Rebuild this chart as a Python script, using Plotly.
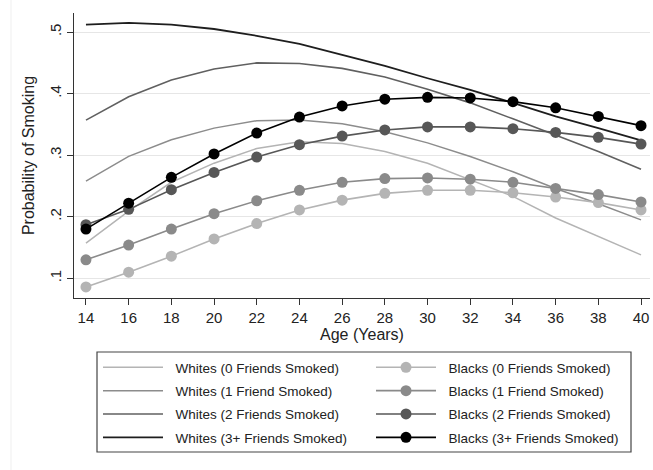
import plotly.graph_objects as go

ages = [14, 16, 18, 20, 22, 24, 26, 28, 30, 32, 34, 36, 38, 40]

whites_0 = [0.157, 0.209, 0.256, 0.287, 0.311, 0.322, 0.319, 0.306, 0.287, 0.260, 0.233, 0.198, 0.168, 0.138]
whites_1 = [0.258, 0.298, 0.325, 0.344, 0.356, 0.357, 0.351, 0.338, 0.320, 0.298, 0.273, 0.246, 0.221, 0.195]
whites_2 = [0.357, 0.395, 0.422, 0.440, 0.450, 0.449, 0.441, 0.427, 0.407, 0.385, 0.359, 0.333, 0.306, 0.277]
whites_3 = [0.512, 0.515, 0.512, 0.505, 0.494, 0.481, 0.463, 0.445, 0.425, 0.406, 0.385, 0.363, 0.344, 0.324]

blacks_0 = [0.086, 0.110, 0.136, 0.164, 0.189, 0.211, 0.227, 0.238, 0.243, 0.243, 0.239, 0.232, 0.223, 0.211]
blacks_1 = [0.130, 0.154, 0.180, 0.205, 0.226, 0.243, 0.256, 0.262, 0.263, 0.261, 0.256, 0.246, 0.236, 0.224]
blacks_2 = [0.187, 0.212, 0.244, 0.272, 0.297, 0.317, 0.331, 0.341, 0.346, 0.346, 0.343, 0.337, 0.329, 0.318]
blacks_3 = [0.180, 0.222, 0.264, 0.302, 0.336, 0.362, 0.380, 0.391, 0.394, 0.393, 0.387, 0.377, 0.363, 0.348]

white_names = ["Whites (0 Friends Smoked)", "Whites (1 Friend Smoked)",
               "Whites (2 Friends Smoked)", "Whites (3+ Friends Smoked)"]
black_names = ["Blacks (0 Friends Smoked)", "Blacks (1 Friend Smoked)",
               "Blacks (2 Friends Smoked)", "Blacks (3+ Friends Smoked)"]

y_tickvals = [0.1, 0.2, 0.3, 0.4, 0.5]
y_ticktext = [".1", ".2", ".3", ".4", ".5"]

white_colors = ["#b4b4b4", "#8c8c8c", "#606060", "#1e1e1e"]
black_colors = ["#b4b4b4", "#8a8a8a", "#575757", "#000000"]
white_widths = [1.5, 1.5, 1.6, 1.8]

PAD = "\u00a0\u00a0"

fig = go.Figure()

for i, (name, vals) in enumerate(zip(white_names, [whites_0, whites_1, whites_2, whites_3])):
    fig.add_trace(go.Scatter(
        x=ages, y=vals, name=PAD + name, mode="lines",
        line=dict(color=white_colors[i], width=white_widths[i]),
        legend="legend", legendgroup="w%d" % i, legendrank=i + 1,
    ))

for i, (name, vals) in enumerate(zip(black_names, [blacks_0, blacks_1, blacks_2, blacks_3])):
    fig.add_trace(go.Scatter(
        x=ages, y=vals, name=PAD + name, mode="lines+markers",
        line=dict(color=black_colors[i], width=1.6),
        marker=dict(color=black_colors[i], size=11, line=dict(width=0)),
        legend="legend2", legendgroup="b%d" % i, legendrank=i + 1,
    ))

# plot area: x 74..650 px, y 13..298 px
L, R, T, B = 74, 3, 13, 172
W, H = 653 - L - R, 470 - T - B

def px(xp):
    return (xp - L) / W

def py(yp):
    return (470 - B - yp) / H

legend_font = dict(family="Liberation Sans, Arial, sans-serif", size=13.5, color="#222222")

fig.update_layout(
    width=653, height=470,
    margin=dict(l=L, r=R, t=T, b=B, autoexpand=False),
    paper_bgcolor="white", plot_bgcolor="white",
    font=dict(family="Liberation Sans, Arial, sans-serif", color="#222222"),
    hovermode=False,
    xaxis=dict(
        range=[13.44, 40.42], tickvals=ages, ticks="outside", ticklen=6,
        tickcolor="#333333", tickwidth=1.2, automargin=False,
        showline=True, linecolor="#333333", linewidth=1.3,
        showgrid=False, zeroline=False,
        tickfont=dict(size=15, color="#222222"),
        title=dict(text="Age (Years)", font=dict(size=16, color="#222222"), standoff=2),
    ),
    yaxis=dict(
        range=[0.068, 0.531], tickvals=y_tickvals, ticktext=y_ticktext,
        tickangle=-90, ticks="outside", ticklen=6,
        tickcolor="#333333", tickwidth=1.2, automargin=False,
        showline=True, linecolor="#333333", linewidth=1.3,
        showgrid=True, gridcolor="#e6e6e6", gridwidth=1.3, zeroline=False,
        tickfont=dict(size=15, color="#222222"),
        title=dict(text="Probability of Smoking", font=dict(size=16, color="#222222"), standoff=8),
    ),
    legend=dict(
        x=px(98), y=py(352), xanchor="left", yanchor="top",
        orientation="v", font=legend_font, itemwidth=60,
        tracegroupgap=2.8, bgcolor="rgba(0,0,0,0)", borderwidth=0,
    ),
    legend2=dict(
        x=px(371), y=py(352), xanchor="left", yanchor="top",
        orientation="v", font=legend_font, itemwidth=60,
        tracegroupgap=2.8, bgcolor="rgba(0,0,0,0)", borderwidth=0,
    ),
    shapes=[
        dict(type="rect", xref="paper", yref="paper",
             x0=px(97), x1=px(631), y0=py(452), y1=py(352),
             line=dict(color="#444444", width=1.2), fillcolor="rgba(0,0,0,0)"),
        dict(type="line", xref="paper", yref="paper",
             x0=px(11), x1=px(11), y0=py(470), y1=py(0),
             line=dict(color="#efefef", width=1)),
    ],
)

fig.write_html(
    "out.html",
    config={"displayModeBar": False},
    post_script="document.body.style.margin='0';document.body.style.padding='0';",
)
